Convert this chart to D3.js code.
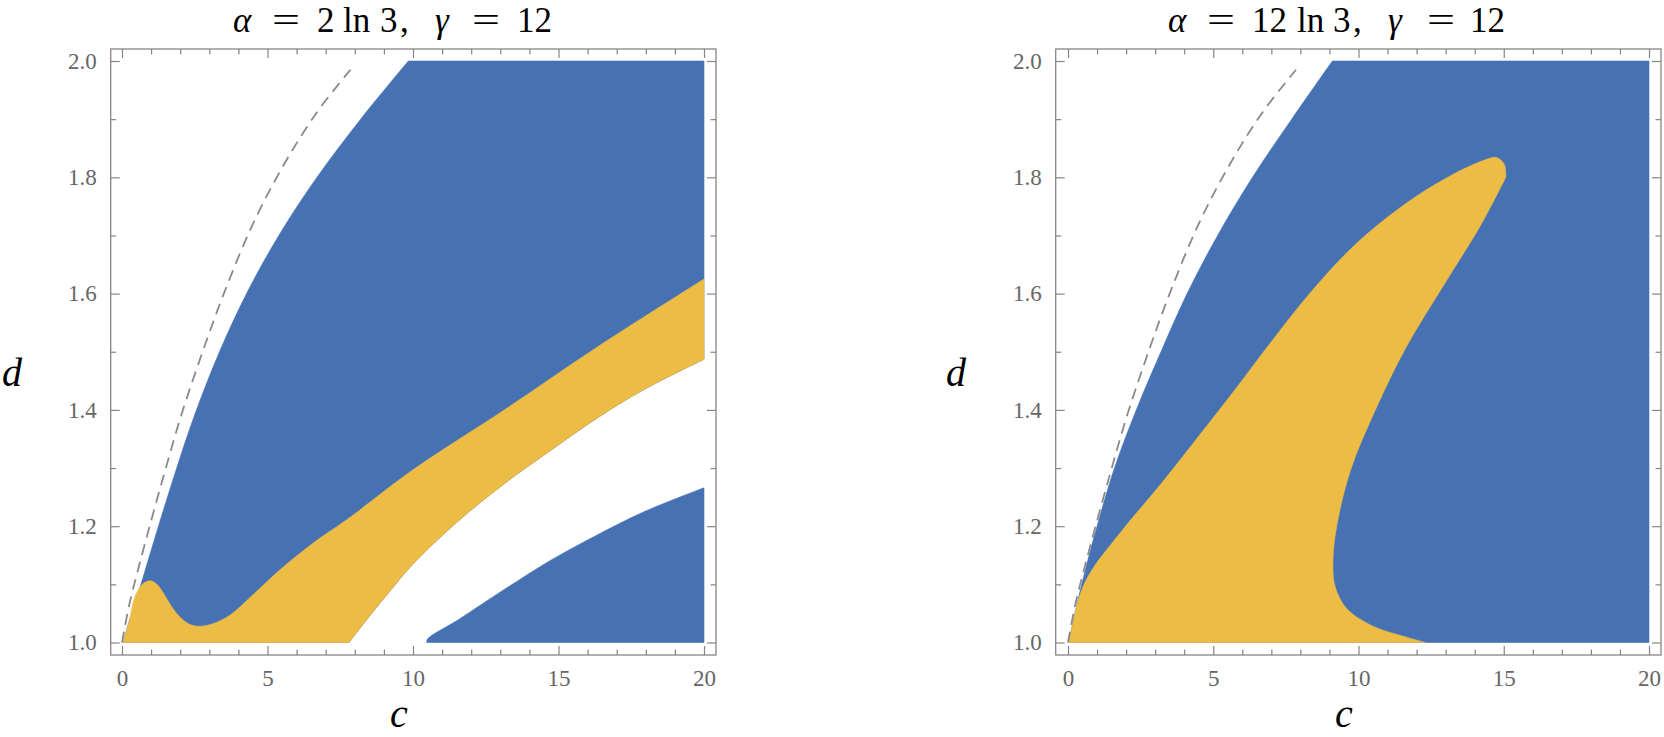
<!DOCTYPE html>
<html><head><meta charset="utf-8">
<script src="https://cdn.jsdelivr.net/npm/d3@7"></script>
<style>
body{margin:0;background:#fff;} svg{display:block}
.serif{font-family:"Liberation Serif","DejaVu Serif",serif;}
</style>
</head><body>
<svg id="chart" width="1664" height="737"></svg>
<script>
// ---------- data (c, d) ----------
const cDomain = [0, 20];
const dDomain = [1, 2];
const cMajorTicks = [0, 5, 10, 15, 20];
const cMinorTicks = [1,2,3,4,6,7,8,9,11,12,13,14,16,17,18,19];
const dMajorTicks = [1.0, 1.2, 1.4, 1.6, 1.8, 2.0];
const dMinorTicks = [1.1, 1.3, 1.5, 1.7, 1.9];
// title tokens: α = <k> ln 3,  γ = 12
const titleTokens1 = ["α", "=", "2", "ln", "3", ",", "γ", "=", "12"];
const titleTokens2 = ["α", "=", "12", "ln", "3", ",", "γ", "=", "12"];
const italicTokens = ["α", "γ"];

// dashed reference curve (same in both panels)
const dashedCurve = [[0,1.0],[0.25,1.065],[0.55,1.125],[0.95,1.2],[1.45,1.29],[2.0,1.385],[2.7,1.49],[3.5,1.6],[4.5,1.72],[5.6,1.825],[6.7,1.912],[7.85,1.985]];

// panel 1 : alpha = 2 ln 3
const leftBoundary1 = [[0.03,1.0],[0.15,1.02],[0.27,1.04],[0.65,1.1],[1.1,1.175],[1.75,1.28],[2.5,1.392],[3.35,1.5],[4.35,1.607],[5.45,1.705],[6.7,1.8],[8.2,1.9],[9.84,2.0]];
const yellowUpper1 = [[0.27,1.04],[0.45,1.079],[0.7,1.1],[0.96,1.106],[1.2,1.1],[1.42,1.085],[1.7,1.062],[1.99,1.044],[2.3,1.032],[2.62,1.028],[3.1,1.032],[3.71,1.047],[4.5,1.082],[5.43,1.125],[6.57,1.171],[7.72,1.211],[10,1.297],[13.2,1.402],[16.3,1.507],[20,1.625]];
const yellowLower1 = [[7.8,1.0],[8.42,1.04],[9.2,1.088],[10,1.135],[11.58,1.21],[13.16,1.274],[14.75,1.331],[16.33,1.386],[17.9,1.434],[20,1.487]];
const blueLower1 = [[10.47,1.0],[10.5,1.006],[11.58,1.04],[13.16,1.092],[14.75,1.142],[16.33,1.185],[17.9,1.224],[20,1.266]];

// panel 2 : alpha = 12 ln 3
const leftBoundary2 = [[0.03,1.0],[0.19,1.039],[0.4,1.085],[0.7,1.145],[1.0,1.2],[1.6,1.3],[2.35,1.4],[3.2,1.5],[4.1,1.6],[5.15,1.7],[6.35,1.8],[7.7,1.9],[9.1,2.0]];
const yellowUpper2 = [[0.19,1.039],[0.35,1.072],[0.6,1.105],[1.0,1.138],[1.5,1.17],[2.16,1.211],[3.19,1.272],[4.22,1.337],[5.6,1.425],[6.98,1.516],[8.35,1.602],[9.9,1.685],[11.63,1.755],[13.0,1.798],[14.2,1.827],[14.75,1.834],[15.02,1.822],[15.07,1.8]];
const yellowRight2 = [[15.07,1.8],[14.2,1.717],[13.0,1.62],[11.63,1.507],[10.6,1.402],[9.73,1.297],[9.25,1.2],[9.12,1.14],[9.2,1.095],[9.6,1.058],[10.5,1.028],[11.6,1.01],[12.3,1.0]];

// ---------- layout ----------
const BLUE = "#4672b4", YELLOW = "#ecbc45", FRAME = "#858585", TICKTXT = "#666";
const frameTop = 49, frameBottom = 655;
const panels = [
  {fl:110.7, fr:716, x0:122, x1:704, titleX:233, tokens:titleTokens1, offs:[0,39,84,110,147,167,202,239,284], cX:399, dX:12},
  {fl:1055.7, fr:1661, x0:1068, x1:1649, titleX:1168, tokens:titleTokens2, offs:[0,39,84,129,165,185,220,259,302], cX:1344, dX:956}
];

const svg = d3.select("#chart");

function pathFrom(segs, x, y) {
  const gen = d3.line().x(p => x(p[0])).y(p => y(p[1])).curve(d3.curveCatmullRom.alpha(0.5));
  return segs.map((s, i) => { const p = gen(s); return i === 0 ? p : p.replace(/^M/, "L"); }).join("") + "Z";
}
const rev = a => a.slice().reverse();

panels.forEach((P, i) => {
  const x = d3.scaleLinear().domain(cDomain).range([P.x0, P.x1]);
  const y = d3.scaleLinear().domain(dDomain).range([642.5, 61]);
  const g = svg.append("g");

  let shapes;
  if (i === 0) {
    shapes = [
      {fill: BLUE, segs: [leftBoundary1, [[9.84,2],[20,2]], [[20,2],[20,1.487]], rev(yellowLower1), [[7.8,1],[0.03,1]]]},
      {fill: YELLOW, segs: [leftBoundary1.slice(0,3), yellowUpper1, [[20,1.625],[20,1.487]], rev(yellowLower1), [[7.8,1],[0.03,1]]]},
      {fill: BLUE, segs: [blueLower1, [[20,1.266],[20,1]], [[20,1],[10.47,1]]]}
    ];
  } else {
    shapes = [
      {fill: BLUE, segs: [leftBoundary2, [[9.1,2],[20,2]], [[20,2],[20,1]], [[20,1],[0.03,1]]]},
      {fill: YELLOW, segs: [leftBoundary2.slice(0,2), yellowUpper2, yellowRight2, [[12.3,1],[0.03,1]]]}
    ];
  }
  g.selectAll("path.region").data(shapes).join("path")
    .attr("class", "region")
    .attr("d", s => pathFrom(s.segs, x, y))
    .attr("fill", s => s.fill)
    .attr("stroke", s => s.fill).attr("stroke-width", 0.6);

  g.append("path")
    .attr("d", d3.line().x(p => x(p[0])).y(p => y(p[1])).curve(d3.curveCatmullRom.alpha(0.5))(dashedCurve))
    .attr("fill", "none").attr("stroke", "#8a8a8a").attr("stroke-width", 1.8)
    .attr("stroke-dasharray", "11,7");

  // frame
  g.append("rect").attr("x", P.fl).attr("y", frameTop)
    .attr("width", P.fr - P.fl).attr("height", frameBottom - frameTop)
    .attr("fill", "none").attr("stroke", FRAME).attr("stroke-width", 1.3);

  const styleAxis = sel => {
    sel.attr("font-family", null).attr("font-size", null);
    sel.select(".domain").remove();
    sel.selectAll("line").attr("stroke", FRAME).attr("stroke-width", 1.2);
    sel.selectAll("text").attr("class", "serif").attr("fill", TICKTXT).style("font-size", "23px");
  };
  // bottom
  g.append("g").attr("transform", `translate(0,${frameBottom})`)
    .call(d3.axisBottom(x).tickValues(cMajorTicks).tickSizeInner(-9).tickSizeOuter(0).tickPadding(15).tickFormat(d3.format("d")))
    .call(styleAxis);
  g.append("g").attr("transform", `translate(0,${frameBottom})`)
    .call(d3.axisBottom(x).tickValues(cMinorTicks).tickSizeInner(-5.5).tickSizeOuter(0).tickFormat(""))
    .call(styleAxis);
  // top
  g.append("g").attr("transform", `translate(0,${frameTop})`)
    .call(d3.axisTop(x).tickValues(cMajorTicks).tickSizeInner(-9).tickSizeOuter(0).tickFormat(""))
    .call(styleAxis);
  g.append("g").attr("transform", `translate(0,${frameTop})`)
    .call(d3.axisTop(x).tickValues(cMinorTicks).tickSizeInner(-5.5).tickSizeOuter(0).tickFormat(""))
    .call(styleAxis);
  // left
  g.append("g").attr("transform", `translate(${P.fl},0)`)
    .call(d3.axisLeft(y).tickValues(dMajorTicks).tickSizeInner(-9).tickSizeOuter(0).tickPadding(14).tickFormat(d3.format(".1f")))
    .call(styleAxis);
  g.append("g").attr("transform", `translate(${P.fl},0)`)
    .call(d3.axisLeft(y).tickValues(dMinorTicks).tickSizeInner(-5.5).tickSizeOuter(0).tickFormat(""))
    .call(styleAxis);
  // right
  g.append("g").attr("transform", `translate(${P.fr},0)`)
    .call(d3.axisRight(y).tickValues(dMajorTicks).tickSizeInner(-9).tickSizeOuter(0).tickFormat(""))
    .call(styleAxis);
  g.append("g").attr("transform", `translate(${P.fr},0)`)
    .call(d3.axisRight(y).tickValues(dMinorTicks).tickSizeInner(-5.5).tickSizeOuter(0).tickFormat(""))
    .call(styleAxis);

  // title, token by token (math layout)
  const tg = g.append("g").attr("class", "serif").style("font-size", "35px");
  P.tokens.forEach((tok, k) => {
    const te = tg.append("text").attr("x", P.titleX + P.offs[k]).attr("y", 31.5).attr("fill", "#000").text(tok);
    if (italicTokens.includes(tok)) te.style("font-style", "italic");
    if (tok === "=") te.attr("textLength", 28).attr("lengthAdjust", "spacingAndGlyphs");
  });

  // axis labels
  g.append("text").attr("class", "serif").attr("x", P.cX).attr("y", 727).attr("text-anchor", "middle")
    .style("font-size", "40px").style("font-style", "italic").text("c");
  g.append("text").attr("class", "serif").attr("x", P.dX).attr("y", 386).attr("text-anchor", "middle")
    .style("font-size", "40px").style("font-style", "italic").text("d");
});
</script></body></html>
